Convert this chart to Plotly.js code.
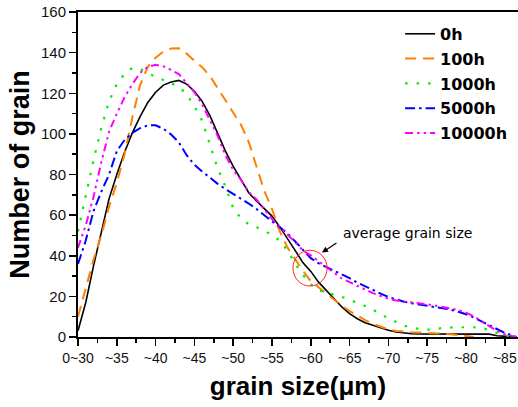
<!DOCTYPE html>
<html>
<head>
<meta charset="utf-8">
<script src="https://cdn.plot.ly/plotly-3.0.1.min.js"></script>
<style>
  html, body { margin: 0; padding: 0; background: #fff; }
  #chart { width: 518px; height: 407px; }
</style>
</head>
<body>
<div id="chart"></div>
<script>
// Grain size classes (upper bound of each class, µm)
const grainSize = [30, 31, 32, 33, 34, 35, 36, 37, 38, 39, 40, 41, 42, 43, 44, 45, 46, 47, 48, 49,
  50, 51, 52, 53, 54, 55, 56, 57, 58, 59, 60, 61, 62, 63, 64, 65, 66, 67, 68, 69,
  70, 71, 72, 73, 74, 75, 76, 77, 78, 79, 80, 81, 82, 83, 84, 85, 86, 86.5];

// Number of grains per class after each ageing time
const count0h = [3, 17, 35, 52, 68, 80, 91, 100.5, 108.5, 115.5, 120.5, 124, 125.5, 126.3, 124.5, 121, 116, 109, 100, 91.5,
  84, 77.5, 71, 67, 63.5, 59.5, 54.2, 48, 42.5, 36.5, 32.3, 27, 23, 18.8, 14.8, 11.5, 9, 7, 5.7, 4.3,
  3.3, 2.5, 1.9, 1.6, 1.5, 1.5, 1.5, 1.5, 1.5, 1.5, 1.5, 1.5, 1.5, 1.4, 0.6, 0.5, 0.3, 0];

const count100h = [10, 24, 38, 50, 64, 76, 90, 108, 124, 133, 137.5, 140.5, 142, 142.2, 139.5, 136, 132.8, 128.5, 122.5, 116.5,
  110.5, 104.5, 96, 84.5, 72, 63, 52, 44, 38.3, 32.5, 27.5, 24.5, 21.3, 18.4, 15.4, 12.8, 10.5, 8.3, 6.5, 5,
  3.7, 3, 2.6, 2.4, 2.2, 2.1, 2, 1.7, 1.3, 1, 0.5, 0, null, null, null, null, null, null];

const count1000h = [52, 70, 87, 103, 116, 124.5, 129.5, 132.5, 132, 130, 128, 126.5, 125, 123.2, 119.5, 113.5, 106.5, 95, 83, 74,
  63.5, 58.5, 55.5, 54, 52.5, 50, 47.5, 42.5, 36, 30.5, 26, 23, 21.8, 20.8, 19.8, 18.4, 16.8, 15.3, 13.4, 11.1,
  9.2, 7.4, 5.6, 4.6, 3.9, 3.6, 3.8, 4.5, 4.8, 4.8, 4.8, 4.8, 4.3, 3.5, 2, 0.7, 0.2, 0];

const count5000h = [36, 47.5, 62, 71.5, 80, 91.5, 97, 100.5, 102.8, 104.2, 104.2, 102.5, 99.7, 95.8, 89.5, 84.8, 81.5, 78.3, 75.4, 72.8,
  70.5, 68.4, 65.7, 63, 60, 57, 54.2, 51, 47, 42.7, 38.8, 36.3, 34.5, 32.6, 30.8, 29, 26.8, 24.9, 23.3, 21.4,
  19.7, 18.5, 17.4, 16.6, 16, 15.5, 15, 14.4, 13.5, 12.4, 11.2, 9.6, 7.6, 5.6, 3.6, 2, 0.8, 0];

const count10000h = [44, 55, 69, 86, 101, 110, 118, 124.5, 130, 133, 134, 133.3, 131.5, 129.4, 125, 120.5, 114.5, 107, 99, 89.5,
  82.2, 77.3, 71.5, 67.7, 62.7, 58, 54.2, 50.6, 46.6, 42.5, 40.2, 37.3, 34.5, 31.6, 28.8, 27, 25.1, 23.3, 21.6, 20.2,
  18.8, 18, 17.6, 17.2, 16.7, 16.1, 15.5, 14.8, 14.1, 13.3, 12, 10.2, 7.8, 5.2, 3, 1.3, 0.2, 0];

const seriesNames = ['0h', '100h', '1000h', '5000h', '10000h'];

// Tick labels for the size classes
const xTickVals = [30, 35, 40, 45, 50, 55, 60, 65, 70, 75, 80, 85];
const xTickText = ['0~30', '~35', '~40', '~45', '~50', '~55', '~60', '~65', '~70', '~75', '~80', '~85'];
const yTickVals = [0, 20, 40, 60, 80, 100, 120, 140, 160];

const styles = [
  { color: '#000000', width: 1.6, dash: 'solid' },
  { color: '#FF8000', width: 2, dash: '11px,7px' },
  { color: '#00EE00', width: 2.2, dash: '2.5px,9px' },
  { color: '#0000FF', width: 2, dash: '10px,4px,2.5px,4px' },
  { color: '#FF00FF', width: 2, dash: '8px,4px,2.5px,4px,2.5px,4px' }
];

const seriesValues = [count0h, count100h, count1000h, count5000h, count10000h];

const traces = seriesValues.map((vals, i) => ({
  type: 'scatter',
  mode: 'lines',
  x: grainSize,
  y: vals,
  name: seriesNames[i],
  legendgroup: 'g' + i,
  connectgaps: false,
  line: styles[i]
}));

const minorX = [];
for (let v = 32.5; v < 87; v += 5) minorX.push(v);

const layout = {
  width: 518,
  height: 407,
  margin: { l: 78, r: 0, t: 12, b: 70 },
  paper_bgcolor: '#ffffff',
  plot_bgcolor: '#ffffff',
  showlegend: true,
  legend: {
    x: 0.732, xanchor: 'left',
    y: 0.985, yanchor: 'top',
    bgcolor: 'rgba(0,0,0,0)',
    borderwidth: 0,
    tracegroupgap: 1,
    font: { family: 'DejaVu Sans', size: 16, color: '#000', weight: 'bold' }
  },
  xaxis: {
    range: [30, 86.7],
    tickmode: 'array',
    tickvals: xTickVals,
    ticktext: xTickText,
    ticks: 'outside',
    ticklen: 7,
    tickwidth: 1.5,
    tickcolor: '#000',
    minor: { tickmode: 'array', tickvals: minorX, ticks: 'outside', ticklen: 4, tickwidth: 1.5, tickcolor: '#000' },
    showline: true,
    linecolor: '#000',
    linewidth: 2,
    mirror: true,
    showgrid: false,
    zeroline: false,
    tickfont: { family: 'Liberation Sans', size: 14, color: '#111' },
    title: {
      text: '<b>grain size(μm)</b>',
      font: { family: 'Liberation Sans', size: 26, color: '#000' },
      standoff: 12
    }
  },
  yaxis: {
    range: [0, 160],
    tickmode: 'array',
    tickvals: yTickVals,
    ticks: 'outside',
    ticklen: 7,
    tickwidth: 1.5,
    tickcolor: '#000',
    minor: { tickmode: 'linear', tick0: 10, dtick: 20, ticks: 'outside', ticklen: 4, tickwidth: 1.5, tickcolor: '#000' },
    showline: true,
    linecolor: '#000',
    linewidth: 2,
    mirror: false,
    showgrid: false,
    zeroline: false,
    tickfont: { family: 'Liberation Sans', size: 15, color: '#111' },
    title: {
      text: '<b>Number of grain</b>',
      font: { family: 'Liberation Sans', size: 27, color: '#000' },
      standoff: 4
    }
  },
  shapes: [
    {
      type: 'circle', xref: 'x', yref: 'y',
      x0: 57.7, x1: 62.1, y0: 25.1, y1: 42.7,
      line: { color: '#FF2020', width: 1 }
    }
  ],
  annotations: [
    {
      x: 72.47, y: 51.4, xref: 'x', yref: 'y',
      text: 'average grain size',
      showarrow: false,
      font: { family: 'DejaVu Sans', size: 14, color: '#000' }
    },
    {
      x: 61.44, y: 41.6, xref: 'x', yref: 'y',
      ax: 63.5, ay: 46.8, axref: 'x', ayref: 'y',
      text: '',
      showarrow: true,
      arrowhead: 2,
      arrowsize: 1,
      arrowwidth: 1.2,
      arrowcolor: '#000'
    }
  ]
};

Plotly.newPlot('chart', traces, layout, { displayModeBar: false, staticPlot: true });
</script>
</body>
</html>
